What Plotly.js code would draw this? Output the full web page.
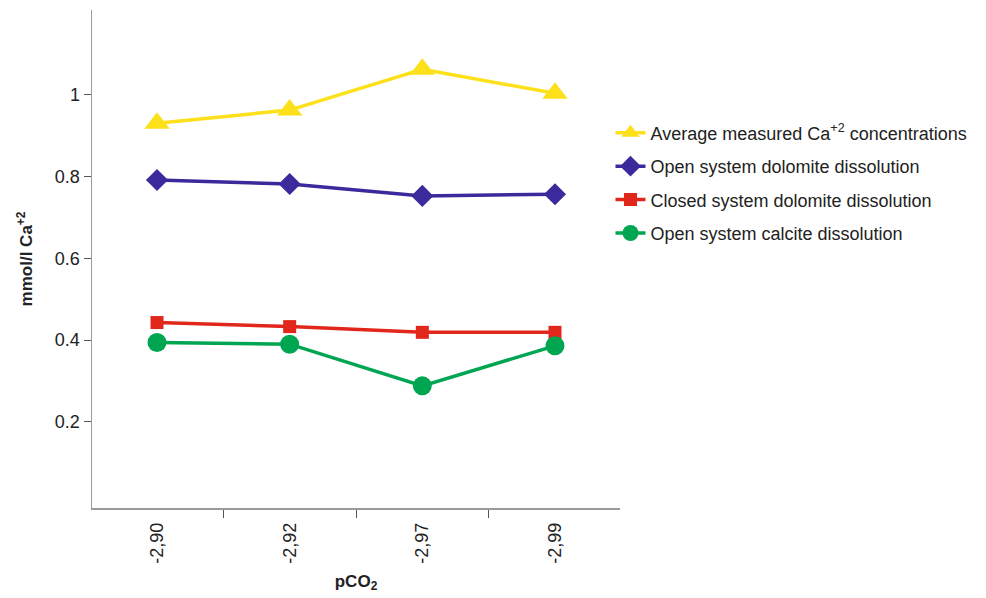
<!DOCTYPE html>
<html>
<head>
<meta charset="utf-8">
<script src="https://cdn.plot.ly/plotly-3.0.1.min.js"></script>
<style>html,body{margin:0;padding:0;background:#fff;}#chart{width:986px;height:598px;}</style>
</head>
<body>
<div id="chart"></div>
<script>
const categories = ["-2,90", "-2,92", "-2,97", "-2,99"];
const averageMeasured = [0.931, 0.963, 1.063, 1.004];
const openDolomite = [0.792, 0.782, 0.753, 0.757];
const closedDolomite = [0.443, 0.433, 0.419, 0.419];
const openCalcite = [0.394, 0.390, 0.288, 0.386];
const yTicks = [0.2, 0.4, 0.6, 0.8, 1];
const yTickText = ["0.2", "0.4", "0.6", "0.8", "1"];

const traces = [
  {name: "Average measured Ca<sup>+2</sup> concentrations", y: averageMeasured, color: "#FCE01A", symbol: "triangle-up", size: 22, group: "a"},
  {name: "Open system dolomite dissolution", y: openDolomite, color: "#3A2A9B", symbol: "diamond", size: 17, group: "b"},
  {name: "Closed system dolomite dissolution", y: closedDolomite, color: "#E1261C", symbol: "square", size: 13, group: "c"},
  {name: "Open system calcite dissolution", y: openCalcite, color: "#00A551", symbol: "circle", size: 19, group: "d"}
].map(t => ({
  type: "scatter", mode: "lines+markers", x: categories, y: t.y, name: t.name,
  legendgroup: t.group,
  line: {color: t.color, width: 3.5},
  marker: {color: t.color, symbol: t.symbol, size: t.size, line: {width: 0}}
}));

const layout = {
  width: 986, height: 598,
  margin: {l: 92, r: 366, t: 10, b: 90},
  paper_bgcolor: "#fff", plot_bgcolor: "#fff",
  font: {family: "Liberation Sans, Arial, sans-serif", size: 18, color: "#222"},
  showlegend: true,
  legend: {x: 0.982, xanchor: "left", y: 0.79, yanchor: "top", font: {size: 18, color: "#222"},
           tracegroupgap: 7, bgcolor: "rgba(0,0,0,0)"},
  xaxis: {
    type: "category", range: [-0.49, 3.49], tickson: "boundaries",
    ticks: "outside", ticklen: 8, tickcolor: "#555", tickwidth: 1,
    showline: true, linecolor: "#999", linewidth: 1.5, showgrid: false, zeroline: false,
    tickangle: -90, tickfont: {size: 18, color: "#222"}, ticklabelstandoff: 6,
    title: {text: "<b>pCO<sub>2</sub></b>", font: {size: 17, color: "#222"}, standoff: 12}
  },
  yaxis: {
    range: [-0.011, 1.208], tickvals: yTicks, ticktext: yTickText,
    ticks: "outside", ticklen: 7, tickcolor: "#555", tickwidth: 1,
    showline: true, linecolor: "#999", linewidth: 1.5, showgrid: false, zeroline: false,
    tickfont: {size: 18, color: "#222"},
    title: {text: "<b>mmol/l Ca<sup>+2</sup></b>", font: {size: 17, color: "#222"}, standoff: 18}
  }
};

Plotly.newPlot("chart", traces, layout, {displayModeBar: false, staticPlot: true});
</script>
</body>
</html>
